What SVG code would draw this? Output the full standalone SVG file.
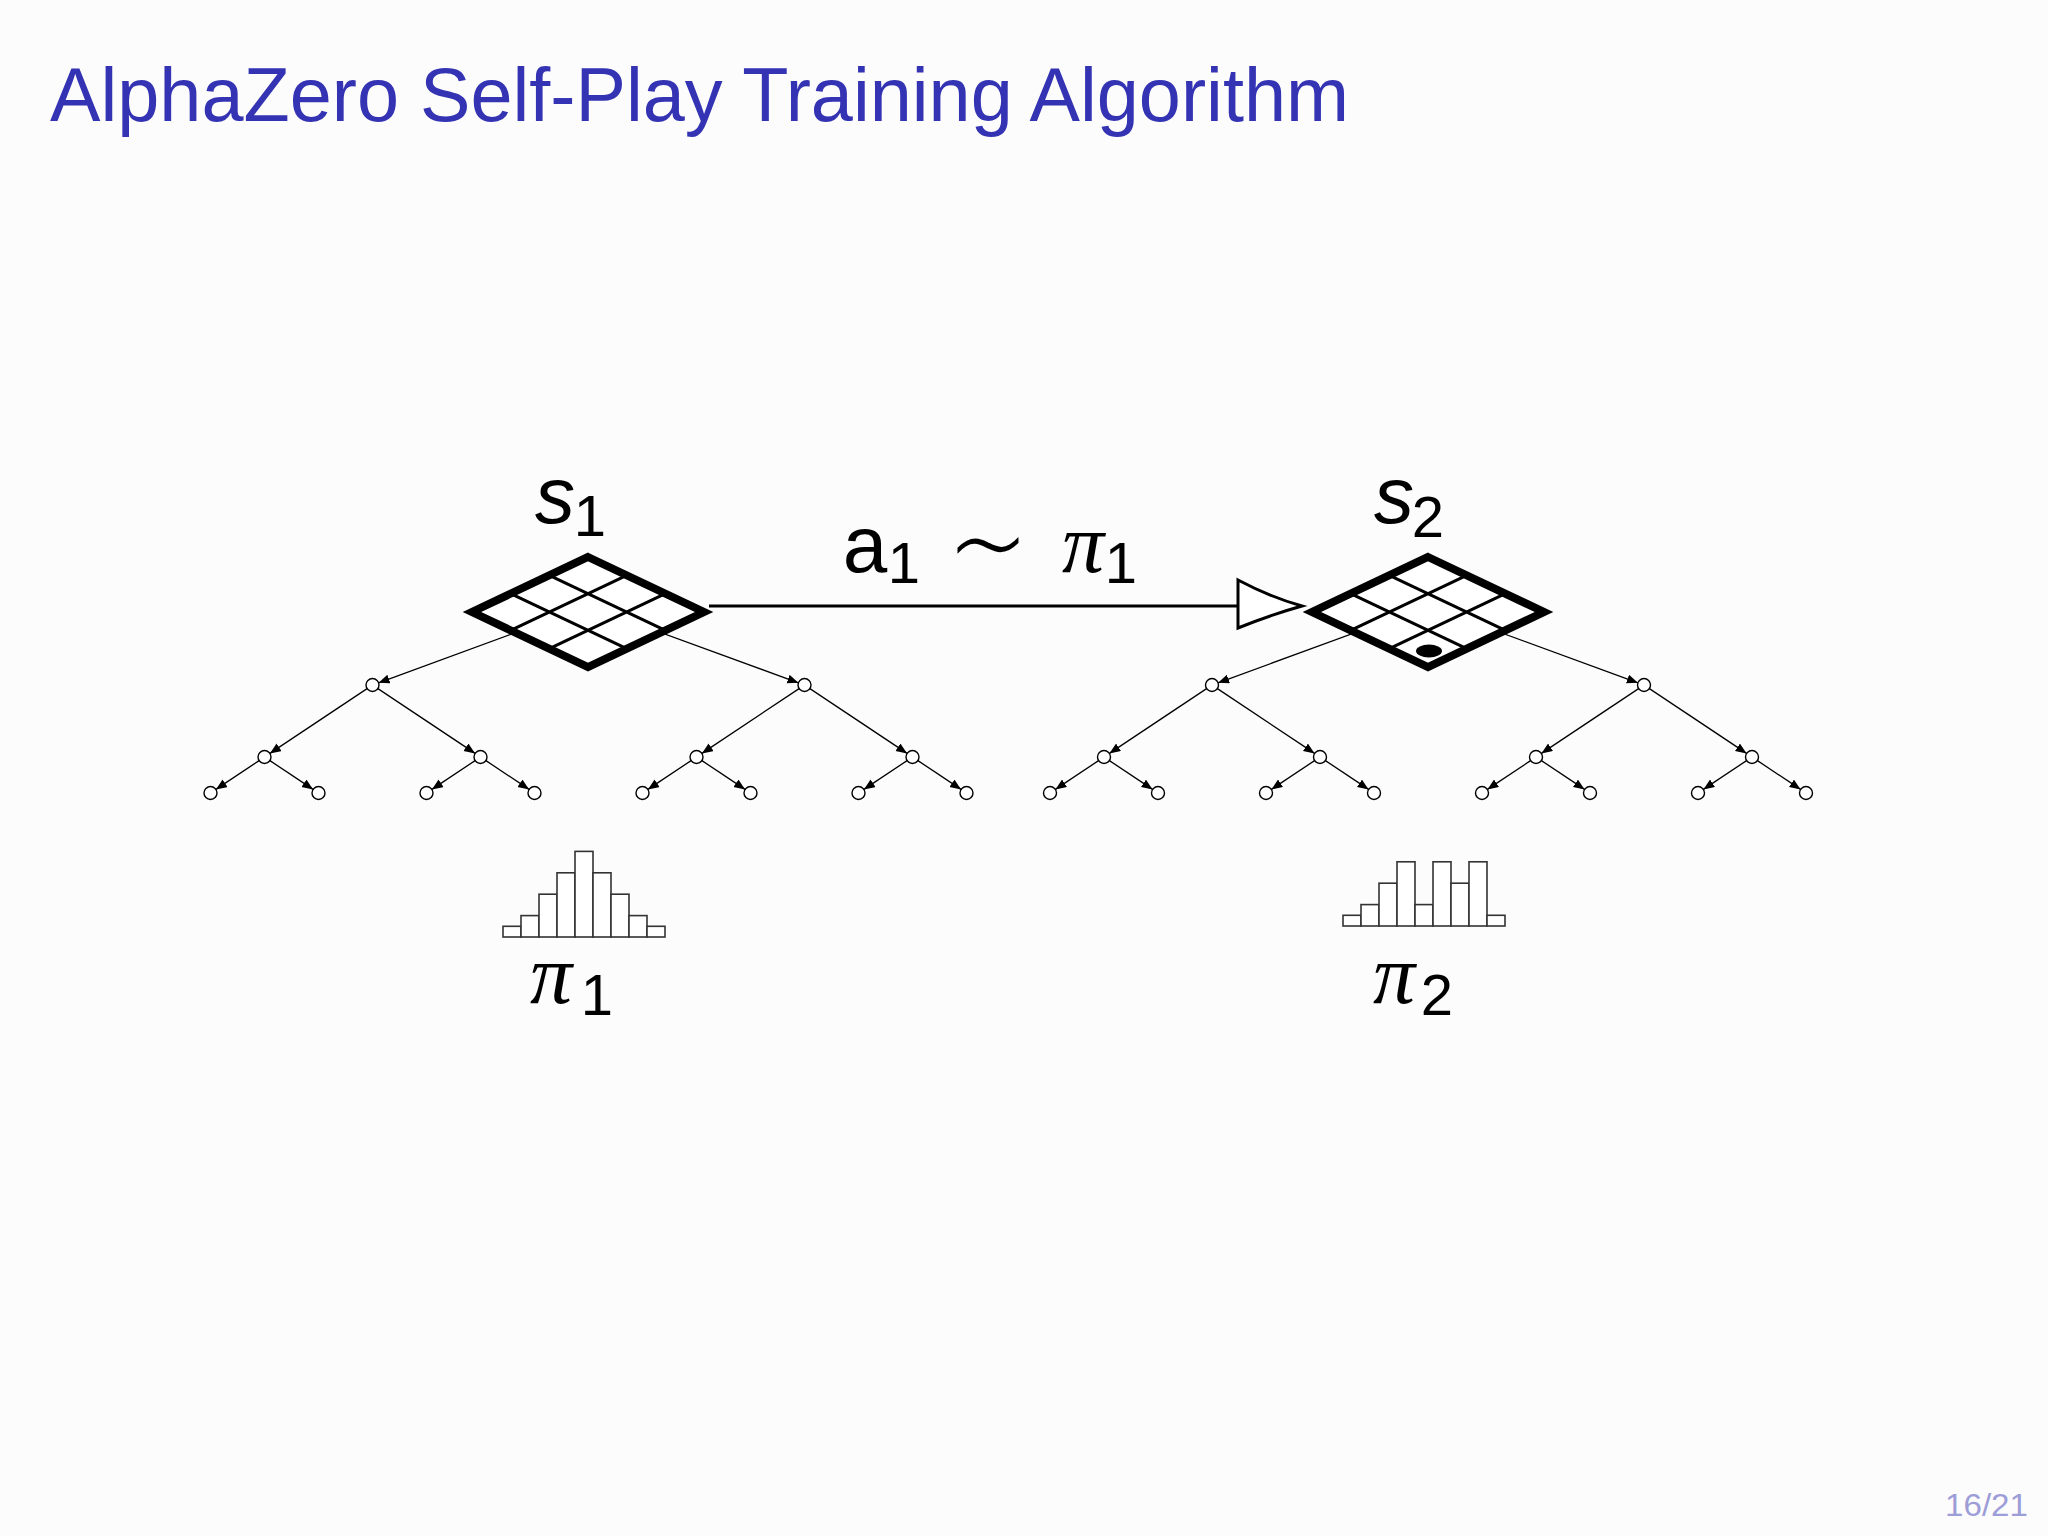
<svg xmlns="http://www.w3.org/2000/svg" width="2048" height="1536" viewBox="0 0 2048 1536">
  <defs>
    <style>
      .title { font-family: "Liberation Sans", Arial, sans-serif; font-size: 76px; fill: #3333B3; }
      .pg { font-family: "Liberation Sans", Arial, sans-serif; font-size: 32px; fill: #9D9DD8; }
      .m { font-family: "Liberation Sans", Arial, sans-serif; font-size: 80px; fill: #000; text-anchor: middle; }
      .mi { font-family: "Liberation Sans", Arial, sans-serif; font-size: 80px; font-style: italic; fill: #000; text-anchor: middle; }
      .pi { font-family: "Liberation Serif", "DejaVu Serif", serif; font-size: 84px; font-style: italic; fill: #000; text-anchor: middle; }
      .sub { font-family: "Liberation Sans", Arial, sans-serif; font-size: 58px; fill: #000; text-anchor: middle; }
      .sim { font-family: "DejaVu Sans", sans-serif; font-size: 128px; font-weight: 200; fill: #000; text-anchor: middle; }
      .frame { fill: #ffffff; stroke: #000; stroke-width: 8; stroke-linejoin: miter; stroke-miterlimit: 10; }
      .grid { stroke: #000; stroke-width: 3; fill: none; }
      .edge { stroke: #000; stroke-width: 1.3; fill: none; marker-end: url(#ah); }
      .node { fill: #ffffff; stroke: #000; stroke-width: 1.4; }
      .bar { fill: #ffffff; stroke: #333; stroke-width: 1.6; }
    </style>
    <marker id="ah" markerUnits="userSpaceOnUse" markerWidth="12" markerHeight="10" refX="11" refY="4.5" orient="auto">
      <path d="M0,0 L11,4.5 L0,9 z" fill="#000"/>
    </marker>
    <g id="board">
      <path class="frame" d="M0,-55 L116,0 L0,55 L-116,0 Z"/>
      <path class="grid" d="M-38.67,-36.67 L77.33,18.33 M-77.33,-18.33 L38.67,36.67 M38.67,-36.67 L-77.33,18.33 M77.33,-18.33 L-38.67,36.67"/>
    </g>
  </defs>

  <rect x="0" y="0" width="2048" height="1536" fill="#fcfcfc"/>

  <text class="title" x="50" y="121" textLength="1299" lengthAdjust="spacingAndGlyphs">AlphaZero Self-Play Training Algorithm</text>

  <g id="connectors">
    <!-- tree under s1 -->
    <line class="edge" x1="588" y1="606" x2="378.6" y2="682.8"/>
    <line class="edge" x1="588" y1="606" x2="798.4" y2="682.8"/>
    <line class="edge" x1="367.1" y1="688.6" x2="269.9" y2="753.4"/>
    <line class="edge" x1="377.9" y1="688.6" x2="475.1" y2="753.4"/>
    <line class="edge" x1="799.1" y1="688.6" x2="701.9" y2="753.4"/>
    <line class="edge" x1="809.9" y1="688.6" x2="907.1" y2="753.4"/>
    <line class="edge" x1="259.1" y1="760.6" x2="215.9" y2="789.4"/>
    <line class="edge" x1="269.9" y1="760.6" x2="313.1" y2="789.4"/>
    <line class="edge" x1="475.1" y1="760.6" x2="431.9" y2="789.4"/>
    <line class="edge" x1="485.9" y1="760.6" x2="529.1" y2="789.4"/>
    <line class="edge" x1="691.1" y1="760.6" x2="647.9" y2="789.4"/>
    <line class="edge" x1="701.9" y1="760.6" x2="745.1" y2="789.4"/>
    <line class="edge" x1="907.1" y1="760.6" x2="863.9" y2="789.4"/>
    <line class="edge" x1="917.9" y1="760.6" x2="961.1" y2="789.4"/>
    <!-- tree under s2 -->
    <line class="edge" x1="1428" y1="606" x2="1218.1" y2="682.8"/>
    <line class="edge" x1="1428" y1="606" x2="1637.9" y2="682.8"/>
    <line class="edge" x1="1206.6" y1="688.6" x2="1109.4" y2="753.4"/>
    <line class="edge" x1="1217.4" y1="688.6" x2="1314.6" y2="753.4"/>
    <line class="edge" x1="1638.6" y1="688.6" x2="1541.4" y2="753.4"/>
    <line class="edge" x1="1649.4" y1="688.6" x2="1746.6" y2="753.4"/>
    <line class="edge" x1="1098.6" y1="760.6" x2="1055.4" y2="789.4"/>
    <line class="edge" x1="1109.4" y1="760.6" x2="1152.6" y2="789.4"/>
    <line class="edge" x1="1314.6" y1="760.6" x2="1271.4" y2="789.4"/>
    <line class="edge" x1="1325.4" y1="760.6" x2="1368.6" y2="789.4"/>
    <line class="edge" x1="1530.6" y1="760.6" x2="1487.4" y2="789.4"/>
    <line class="edge" x1="1541.4" y1="760.6" x2="1584.6" y2="789.4"/>
    <line class="edge" x1="1746.6" y1="760.6" x2="1703.4" y2="789.4"/>
    <line class="edge" x1="1757.4" y1="760.6" x2="1800.6" y2="789.4"/>
    <!-- main action arrow -->
    <line x1="709" y1="606" x2="1238" y2="606" stroke="#000" stroke-width="3"/>
    <path d="M1238,580 Q1270,597 1302,606 Q1270,615 1238,628 Z" fill="#ffffff" stroke="#000" stroke-width="3" stroke-linejoin="miter"/>
  </g>

  <g id="s1">
    <use href="#board" x="588" y="612"/>
    <text class="mi" x="555" y="523">s</text>
    <text class="sub" x="590" y="536">1</text>
  </g>

  <g id="s2">
    <use href="#board" x="1428" y="612"/>
    <ellipse cx="1429" cy="651" rx="13" ry="6.5" fill="#000"/>
    <text class="mi" x="1394" y="523">s</text>
    <text class="sub" x="1428" y="537">2</text>
  </g>

  <g id="action-label">
    <text class="m" x="865" y="572">a</text>
    <text class="sub" x="904" y="583">1</text>
    <text class="sim" x="988" y="590">∼</text>
    <text class="pi" x="1083" y="572">π</text>
    <text class="sub" x="1121" y="583">1</text>
  </g>

  <g id="tree-nodes">
    <circle class="node" cx="372.5" cy="685" r="6.5"/>
    <circle class="node" cx="804.5" cy="685" r="6.5"/>
    <circle class="node" cx="264.5" cy="757" r="6.5"/>
    <circle class="node" cx="480.5" cy="757" r="6.5"/>
    <circle class="node" cx="696.5" cy="757" r="6.5"/>
    <circle class="node" cx="912.5" cy="757" r="6.5"/>
    <circle class="node" cx="210.5" cy="793" r="6.5"/>
    <circle class="node" cx="318.5" cy="793" r="6.5"/>
    <circle class="node" cx="426.5" cy="793" r="6.5"/>
    <circle class="node" cx="534.5" cy="793" r="6.5"/>
    <circle class="node" cx="642.5" cy="793" r="6.5"/>
    <circle class="node" cx="750.5" cy="793" r="6.5"/>
    <circle class="node" cx="858.5" cy="793" r="6.5"/>
    <circle class="node" cx="966.5" cy="793" r="6.5"/>
    <circle class="node" cx="1212" cy="685" r="6.5"/>
    <circle class="node" cx="1644" cy="685" r="6.5"/>
    <circle class="node" cx="1104" cy="757" r="6.5"/>
    <circle class="node" cx="1320" cy="757" r="6.5"/>
    <circle class="node" cx="1536" cy="757" r="6.5"/>
    <circle class="node" cx="1752" cy="757" r="6.5"/>
    <circle class="node" cx="1050" cy="793" r="6.5"/>
    <circle class="node" cx="1158" cy="793" r="6.5"/>
    <circle class="node" cx="1266" cy="793" r="6.5"/>
    <circle class="node" cx="1374" cy="793" r="6.5"/>
    <circle class="node" cx="1482" cy="793" r="6.5"/>
    <circle class="node" cx="1590" cy="793" r="6.5"/>
    <circle class="node" cx="1698" cy="793" r="6.5"/>
    <circle class="node" cx="1806" cy="793" r="6.5"/>
  </g>

  <g id="pi1">
    <rect class="bar" x="503" y="926.3" width="18" height="10.7"/>
    <rect class="bar" x="521" y="915.6" width="18" height="21.4"/>
    <rect class="bar" x="539" y="894.2" width="18" height="42.8"/>
    <rect class="bar" x="557" y="872.8" width="18" height="64.2"/>
    <rect class="bar" x="575" y="851.4" width="18" height="85.6"/>
    <rect class="bar" x="593" y="872.8" width="18" height="64.2"/>
    <rect class="bar" x="611" y="894.2" width="18" height="42.8"/>
    <rect class="bar" x="629" y="915.6" width="18" height="21.4"/>
    <rect class="bar" x="647" y="926.3" width="18" height="10.7"/>
    <text class="pi" x="551" y="1003">π</text>
    <text class="sub" x="597" y="1015">1</text>
  </g>

  <g id="pi2">
    <rect class="bar" x="1343" y="915.3" width="18" height="10.7"/>
    <rect class="bar" x="1361" y="904.6" width="18" height="21.4"/>
    <rect class="bar" x="1379" y="883.2" width="18" height="42.8"/>
    <rect class="bar" x="1397" y="861.8" width="18" height="64.2"/>
    <rect class="bar" x="1415" y="904.6" width="18" height="21.4"/>
    <rect class="bar" x="1433" y="861.8" width="18" height="64.2"/>
    <rect class="bar" x="1451" y="883.2" width="18" height="42.8"/>
    <rect class="bar" x="1469" y="861.8" width="18" height="64.2"/>
    <rect class="bar" x="1487" y="915.3" width="18" height="10.7"/>
    <text class="pi" x="1394" y="1003">π</text>
    <text class="sub" x="1437" y="1015">2</text>
  </g>

  <text class="pg" x="1945" y="1516" textLength="83" lengthAdjust="spacingAndGlyphs">16/21</text>
</svg>
